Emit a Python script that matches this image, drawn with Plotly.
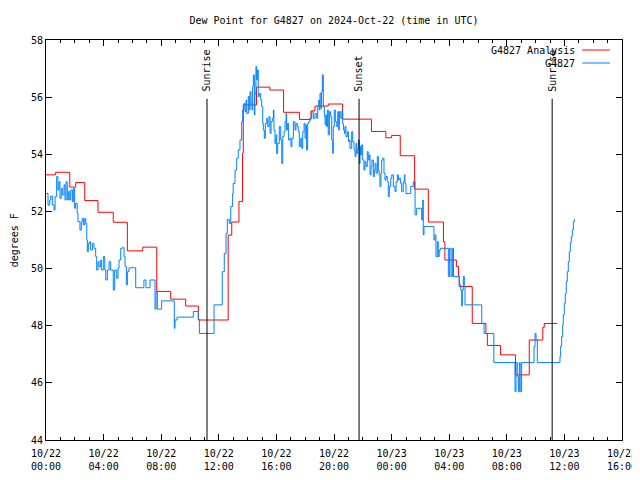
import plotly.graph_objects as go

# hours since 2024-10-22 00:00 UTC
analysis_h = [0.0, 0.67, 1.65, 2.06, 2.69, 3.61, 4.67, 5.65, 6.72, 7.69, 8.66, 9.7, 10.58,
              12.65, 12.9, 13.4, 13.65, 13.7, 14.62, 15.55, 16.5, 17.6, 18.4, 18.68, 19.6,
              20.6, 22.6, 23.6, 24.0, 24.6, 25.6, 26.55, 27.6, 27.7, 28.5, 28.65, 28.7,
              29.6, 30.55, 30.65, 31.57, 32.6, 33.56, 34.5, 34.6, 35.5]
analysis_v = [53.28, 53.37, 52.85, 53.01, 52.38, 51.97, 51.62, 50.62, 50.75, 49.2, 48.93, 48.69, 48.2,
              51.17, 51.63, 52.35, 54.04, 55.73, 56.35, 56.25, 55.47, 55.22, 55.52, 55.69, 55.76,
              55.23, 54.8, 54.58, 54.66, 53.95, 52.78, 51.63, 50.94, 50.3, 50.07, 49.72, 49.37,
              48.08, 47.73, 47.31, 46.98, 46.28, 47.5, 47.94, 48.08, 48.08]

obs_h = [0.0, 0.14, 0.26, 0.33, 0.44, 0.56, 0.63, 0.74, 0.83, 0.90, 0.97, 1.06, 1.13, 1.25, 1.32,
         1.39, 1.48, 1.55, 1.65, 1.72, 1.83, 1.90, 1.99, 2.06, 2.17, 2.22, 2.36, 2.45, 2.52, 2.59,
         2.69, 2.76, 2.83, 2.87, 2.94, 3.03, 3.10, 3.22, 3.33, 3.45, 3.52, 3.61, 3.68, 3.80, 3.84,
         3.98, 4.08, 4.15, 4.26, 4.38, 4.49, 4.67, 4.77, 4.91, 5.00, 5.07, 5.19, 5.30, 5.42, 5.49,
         5.58, 5.65, 5.76, 5.83, 6.23,
         6.80, 6.94, 7.22, 7.57, 7.64, 7.73, 8.03, 8.91, 8.96, 9.10, 10.23, 10.58, 10.65, 11.67,
         12.24, 12.38, 12.50,
         12.59, 12.73, 12.83, 12.96, 13.0, 13.13, 13.24, 13.35, 13.47, 13.59, 13.66, 13.75, 13.82,
         13.89, 13.94, 14.05, 14.12, 14.17, 14.24, 14.31, 14.35, 14.4, 14.47, 14.51, 14.58, 14.63,
         14.68, 14.74, 14.81, 14.91, 14.98, 15.05, 15.09, 15.16, 15.23, 15.33, 15.4, 15.49, 15.56,
         15.63, 15.72, 15.79, 15.83, 15.9, 15.97, 16.02, 16.09, 16.2, 16.3, 16.37, 16.44, 16.53,
         16.6, 16.67, 16.71, 16.78, 16.85, 16.94, 17.01, 17.08, 17.18, 17.29, 17.36, 17.45, 17.52,
         17.59, 17.69, 17.76, 17.83, 17.92, 17.99, 18.06, 18.1, 18.17, 18.24, 18.33, 18.45, 18.56,
         18.68, 18.8, 18.87, 18.94, 18.98, 19.03,
         19.1, 19.14, 19.19, 19.26, 19.33, 19.38, 19.44, 19.49, 19.56, 19.6, 19.68, 19.77, 19.84,
         19.91, 19.95, 20.02, 20.09, 20.19, 20.26, 20.33, 20.37, 20.47, 20.56, 20.6, 20.65, 20.72,
         20.76, 20.83, 20.92, 21.0, 21.06, 21.11, 21.23, 21.3, 21.39, 21.46, 21.53, 21.58, 21.65,
         21.69, 21.76, 21.81, 21.85, 21.92, 21.99, 22.08, 22.15, 22.22, 22.31, 22.38, 22.45, 22.5,
         22.57, 22.64, 22.73, 22.8, 22.85, 22.92, 23.01, 23.08, 23.13, 23.19, 23.26, 23.31, 23.38,
         23.47, 23.54, 23.61, 23.7, 23.77, 23.84, 23.94, 24.01, 24.12, 24.24, 24.31, 24.4, 24.47,
         24.53, 24.63, 24.7, 24.81, 24.88, 24.93, 25.0,
         25.33, 25.51, 25.63, 25.74, 26.09, 26.16, 26.2, 26.25, 26.94, 27.01, 27.08, 27.17, 27.24,
         27.31, 27.41, 27.94, 28.03, 28.13, 28.22, 28.30, 28.70, 28.80, 28.87, 28.91,
         28.98, 29.05, 29.10, 30.26, 30.42, 31.10, 32.57, 32.64, 32.73, 32.80, 32.87, 32.93, 33.03,
         33.89, 33.96, 34.03, 34.12, 35.69, 35.74, 35.81, 35.88, 35.92, 35.99, 36.06, 36.13, 36.20,
         36.27, 36.34, 36.41, 36.48, 36.55, 36.62, 36.69]
obs_v = [52.63, 52.22, 52.40, 52.54, 52.23, 52.05, 52.52, 53.22, 52.75, 53.04, 52.46, 52.81, 52.58, 52.93, 52.40,
         53.04, 52.40, 52.69, 52.40, 52.75, 52.34, 52.81, 52.11, 52.28, 51.93, 51.64, 51.35, 51.64, 51.76, 51.53,
         51.76, 51.58, 51.00, 50.59, 50.88, 50.94, 50.65, 50.88, 50.71, 50.42, 49.95, 50.24, 50.07, 50.30, 49.95,
         50.42, 49.95, 49.60, 49.95, 50.24, 49.95, 49.25, 49.95, 49.66, 50.01, 50.30, 50.71, 50.73, 50.42, 50.07,
         49.43, 49.89, 50.01, 50.03, 49.33,
         49.60, 49.33, 49.60, 48.58, 49.19, 48.58, 48.87, 47.91, 48.20, 48.30, 48.50, 48.22, 47.73, 48.73,
         49.89, 50.53, 51.23,
         51.72, 51.58, 52.17, 52.63, 52.98, 53.45, 53.86, 54.15, 54.50, 55.14, 55.55, 55.78, 55.49,
         55.90, 55.43, 56.02, 55.55, 56.19, 55.78, 55.55, 56.37, 56.78, 55.38, 56.13, 57.07, 56.61,
         56.95, 56.02, 56.13, 55.90, 55.67, 55.08, 54.85, 54.56, 55.08, 55.26, 54.97, 55.32, 54.73,
         55.14, 55.26, 55.55, 54.85, 54.38, 54.68, 54.03, 54.38, 54.97, 54.50, 53.68, 54.62, 54.79,
         55.14, 55.43, 54.85, 55.08, 54.50, 54.56, 54.27, 54.56, 55.14, 54.85, 55.08, 54.97, 54.79,
         54.27, 54.56, 54.21, 54.79, 55.08, 54.56, 55.03, 54.15, 55.08, 55.14, 55.26, 55.49, 55.26,
         55.43, 55.26, 55.67, 55.90, 55.55, 56.13,
         55.61, 56.19, 56.78, 55.67, 55.32, 55.03, 55.38, 54.97, 55.55, 54.68, 55.49, 55.32, 54.50,
         54.03, 54.97, 55.55, 55.14, 54.97, 55.49, 54.85, 55.49, 55.26, 55.55, 55.08, 54.85, 54.73,
         54.97, 54.62, 54.79, 54.44, 54.50, 54.21, 54.79, 54.44, 54.15, 53.92, 54.38, 54.03, 54.21,
         54.50, 53.68, 54.27, 53.98, 54.33, 53.80, 53.45, 53.74, 53.57, 54.09, 53.80, 53.98, 53.28,
         53.57, 53.80, 53.22, 53.45, 53.68, 53.34, 53.92, 53.45, 53.28, 52.87, 53.34, 53.80, 53.86,
         53.34, 53.10, 53.22, 53.04, 52.52, 52.87, 53.16, 53.28, 52.87, 52.69, 53.04, 53.28, 53.10,
         53.16, 52.98, 52.69, 53.04, 53.28, 52.98, 52.63,
         52.87, 53.04, 51.88, 52.11, 51.70, 52.40, 51.18, 51.47, 51.00, 51.18, 50.42, 50.94, 50.42,
         50.65, 50.71, 49.72, 50.71, 49.72, 50.71, 49.72, 49.43, 49.25, 48.69, 49.25,
         49.72, 49.37, 48.73, 48.08, 47.73, 46.71, 45.69, 46.71, 46.22, 45.69, 46.71, 45.69, 46.71,
         47.27, 47.73, 47.50, 46.71, 46.92, 47.29, 47.62, 48.03, 48.38, 48.78, 49.13, 49.54, 49.89,
         50.24, 50.59, 50.91, 51.12, 51.35, 51.64, 51.73]

event_h = [11.18, 21.74, 35.15]
event_labels = ["Sunrise", "Sunset", "Sunrise"]

tick_h = [0, 4, 8, 12, 16, 20, 24, 28, 32, 36, 40]
tick_text = ["10/22<br>00:00", "10/22<br>04:00", "10/22<br>08:00", "10/22<br>12:00",
             "10/22<br>16:00", "10/22<br>20:00", "10/23<br>00:00", "10/23<br>04:00",
             "10/23<br>08:00", "10/23<br>12:00", "10/23<br>16:00"]

series_names = ["G4827 Analysis", "G4827"]
RED = "#ff0000"
BLUE = "#0080ff"
FONT = "DejaVu Sans Mono"

fig = go.Figure()
fig.add_trace(go.Scatter(x=analysis_h, y=analysis_v, mode="lines", line_shape="hv",
                         line=dict(color=RED, width=1), name=series_names[0]))
fig.add_trace(go.Scatter(x=obs_h, y=obs_v, mode="lines", line_shape="hv",
                         line=dict(color=BLUE, width=1), name=series_names[1]))

shapes = []
annotations = []
for h, lab in zip(event_h, event_labels):
    shapes.append(dict(type="line", xref="x", yref="paper", x0=h, x1=h, y0=0, y1=0.853,
                       line=dict(color="black", width=1)))
    annotations.append(dict(x=h, y=0.866, xref="x", yref="paper", text=lab, textangle=-90,
                            showarrow=False, xanchor="center", yanchor="bottom",
                            font=dict(family=FONT, size=10, color="black")))

# manual legend (gnuplot style: text then sample)
for i, (nm, col) in enumerate(zip(series_names, [RED, BLUE])):
    yy = 0.975 - i * 0.0325
    annotations.append(dict(x=0.922, y=yy, xref="paper", yref="paper", text=nm, showarrow=False,
                            xanchor="right", yanchor="middle",
                            font=dict(family=FONT, size=10, color="black")))
    shapes.append(dict(type="line", xref="paper", yref="paper", x0=0.931, x1=0.979, y0=yy, y1=yy,
                       line=dict(color=col, width=1)))

annotations.append(dict(x=-0.055, y=0.5, xref="paper", yref="paper", text="degrees F",
                        textangle=-90, showarrow=False, xanchor="center", yanchor="middle",
                        font=dict(family=FONT, size=10, color="black")))

# page body has an 8px margin: figure is 632x472 so the plot lands at (46..622, 40..440)
fig.update_layout(
    width=632, height=472,
    margin=dict(l=38, r=18, t=32, b=40, autoexpand=False),
    paper_bgcolor="white", plot_bgcolor="white",
    showlegend=False,
    title=dict(text="Dew Point for G4827 on 2024-Oct-22 (time in UTC)", x=0.5, xanchor="center",
               xref="paper", y=1 - 12 / 472, yanchor="middle", yref="container",
               font=dict(family=FONT, size=10, color="black")),
    font=dict(family=FONT, size=10, color="black"),
    shapes=shapes, annotations=annotations,
)
fig.update_xaxes(range=[0, 40], tickvals=tick_h, ticktext=tick_text, ticks="inside", ticklen=6,
                 tickcolor="black", showline=True, linecolor="black", linewidth=1, mirror="allticks",
                 showgrid=False, zeroline=False, automargin=False, ticklabelstandoff=4,
                 minor=dict(ticks="inside", dtick=1, ticklen=3, tickcolor="black", showgrid=False),
                 tickfont=dict(family=FONT, size=10, color="black"))
fig.update_yaxes(range=[44, 58], dtick=2, ticks="inside", ticklen=6, tickcolor="black",
                 showline=True, linecolor="black", linewidth=1, mirror="allticks",
                 showgrid=False, zeroline=False, automargin=False,
                 tickfont=dict(family=FONT, size=10, color="black"))

fig.write_html("out.html")
